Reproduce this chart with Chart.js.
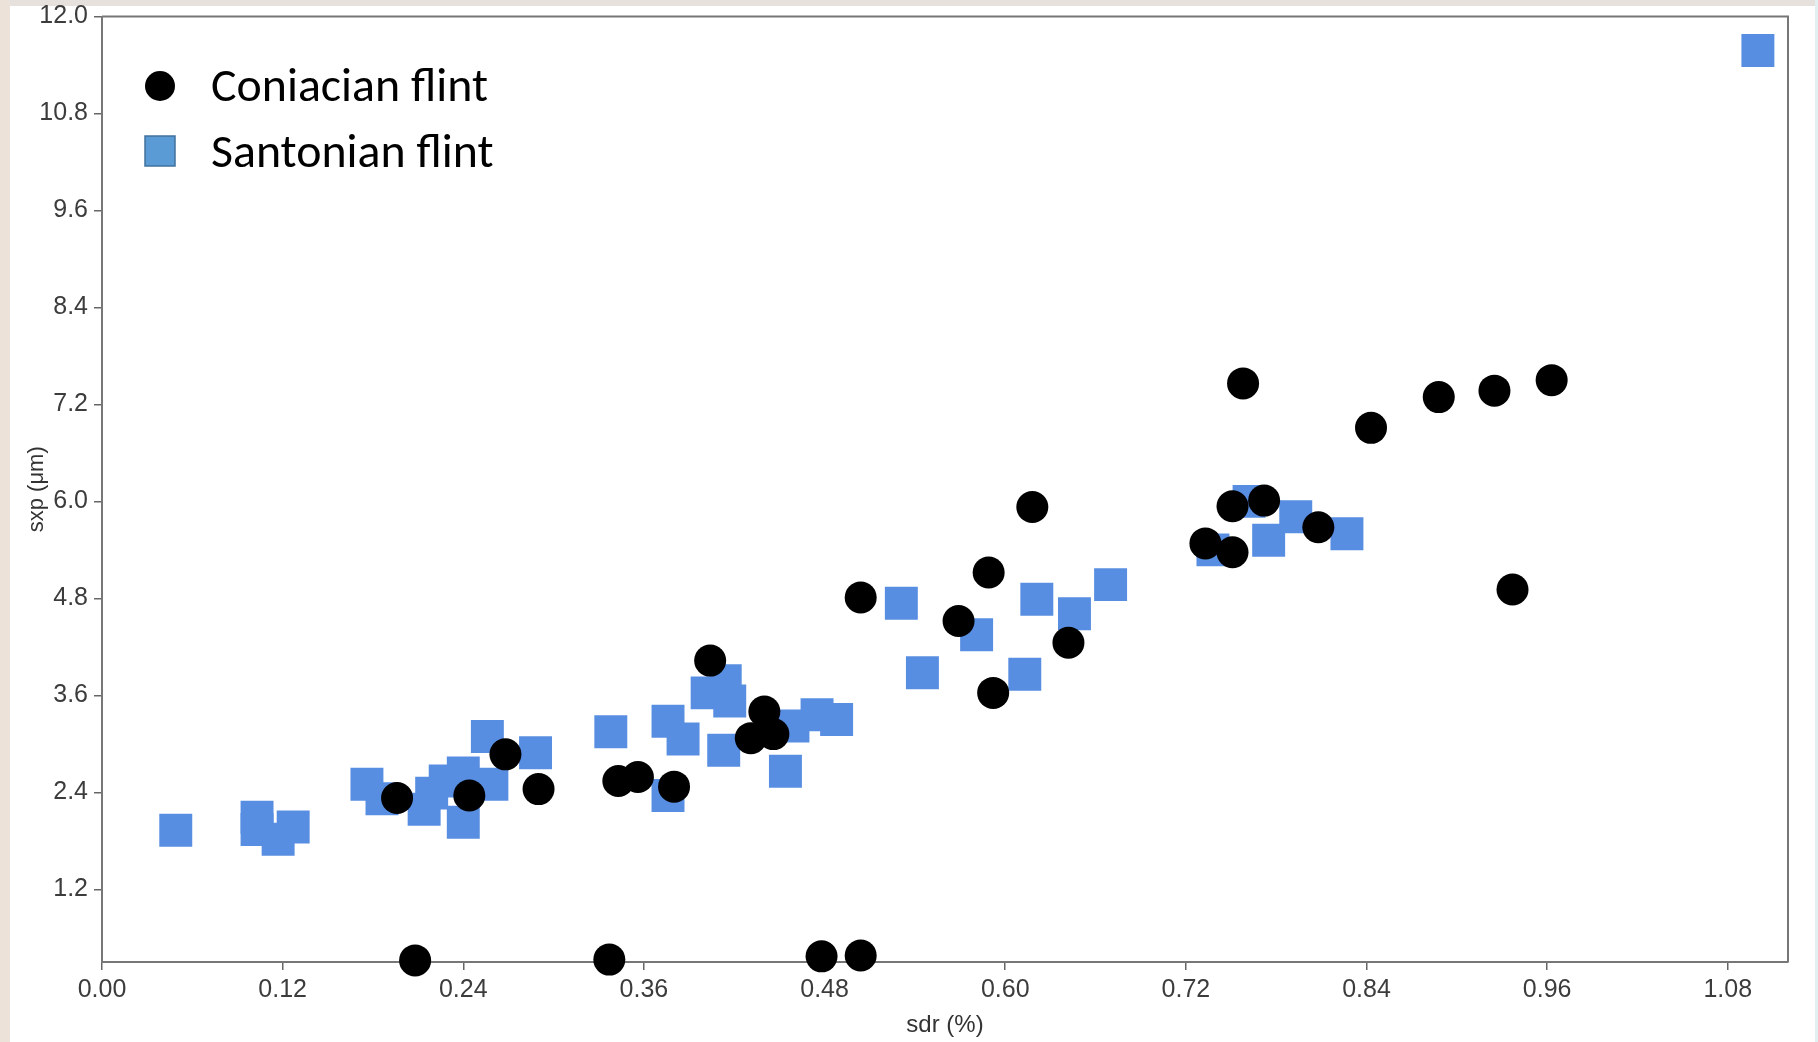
<!DOCTYPE html>
<html>
<head>
<meta charset="utf-8">
<script src="https://cdn.jsdelivr.net/npm/chart.js@4/dist/chart.umd.min.js"></script>
<style>
  html, body { margin: 0; padding: 0; background: #ffffff; overflow: hidden; }
  #wrap { position: relative; width: 1818px; height: 1042px; }
</style>
</head>
<body>
<div id="wrap"><canvas id="c"></canvas></div>
<script>
// ---- data ----
const seriesNames = ['Coniacian flint', 'Santonian flint'];

const coniacianX = [0.196, 0.244, 0.268, 0.290, 0.343, 0.356, 0.380, 0.404, 0.431, 0.440, 0.446,
                    0.504, 0.569, 0.589, 0.592, 0.618, 0.642, 0.733, 0.751, 0.751, 0.758, 0.772,
                    0.808, 0.843, 0.888, 0.925, 0.963, 0.937, 0.208, 0.337, 0.478, 0.504];
const coniacianY = [2.33, 2.36, 2.87, 2.44, 2.54, 2.59, 2.47, 4.03, 3.07, 3.40, 3.12,
                    4.81, 4.52, 5.12, 3.63, 5.93, 4.25, 5.48, 5.37, 5.94, 7.46, 6.01,
                    5.68, 6.91, 7.29, 7.37, 7.50, 4.91, 0.32, 0.33, 0.37, 0.38];

const santonianX = [0.049, 0.103, 0.103, 0.117, 0.127, 0.176, 0.186, 0.214, 0.219, 0.228,
                    0.240, 0.240, 0.256, 0.259, 0.288, 0.338, 0.376, 0.386, 0.376, 0.402,
                    0.414, 0.417, 0.413, 0.459, 0.454, 0.475, 0.488, 0.531, 0.545, 0.581,
                    0.613, 0.621, 0.646, 0.670, 0.738, 0.762, 0.775, 0.793, 0.827, 1.100];
const santonianY = [1.93, 2.09, 1.94, 1.82, 1.97, 2.50, 2.32, 2.19, 2.39, 2.54,
                    2.64, 2.03, 3.09, 2.50, 2.89, 3.15, 3.28, 3.06, 2.36, 3.63,
                    3.78, 3.53, 2.92, 3.22, 2.66, 3.36, 3.30, 4.74, 3.88, 4.35,
                    3.86, 4.79, 4.61, 4.97, 5.40, 6.00, 5.52, 5.81, 5.60, 11.58];

const xTickValues = [0.00, 0.12, 0.24, 0.36, 0.48, 0.60, 0.72, 0.84, 0.96, 1.08];
const xTickLabels = ['0.00', '0.12', '0.24', '0.36', '0.48', '0.60', '0.72', '0.84', '0.96', '1.08'];
const yTickValues = [1.2, 2.4, 3.6, 4.8, 6.0, 7.2, 8.4, 9.6, 10.8, 12.0];
const yTickLabels = ['1.2', '2.4', '3.6', '4.8', '6.0', '7.2', '8.4', '9.6', '10.8', '12.0'];
const xTitle = 'sdr (%)';
const yTitle = 'sxp (\u03bcm)';

// ---- helpers ----
const pts = (xs, ys) => xs.map((x, i) => ({ x: x, y: ys[i] }));

const bgPlugin = {
  id: 'bg',
  beforeDraw(chart) {
    const ctx = chart.ctx;
    ctx.save();
    ctx.fillStyle = '#ffffff';
    ctx.fillRect(0, 0, chart.width, chart.height);
    ctx.fillStyle = '#e6e1dc';
    ctx.fillRect(0, 0, chart.width, 6);
    ctx.fillStyle = '#ece2da';
    ctx.fillRect(0, 0, 10, chart.height);
    ctx.fillStyle = '#e2f0f2';
    ctx.fillRect(chart.width - 3, 0, 3, chart.height);
    ctx.restore();
  }
};

const framePlugin = {
  id: 'frame',
  beforeDatasetsDraw(chart) {
    const a = chart.chartArea, ctx = chart.ctx;
    ctx.save();
    ctx.strokeStyle = '#777777';
    ctx.lineWidth = 2;
    ctx.beginPath();
    ctx.moveTo(a.left, a.top);
    ctx.lineTo(a.right, a.top);
    ctx.lineTo(a.right, a.bottom);
    ctx.stroke();
    ctx.restore();
  }
};

const legendPlugin = {
  id: 'customLegend',
  afterDatasetsDraw(chart) {
    const ctx = chart.ctx;
    const ds = chart.data.datasets;
    ctx.save();
    ctx.fillStyle = '#000000';
    ctx.beginPath();
    ctx.arc(160, 86, 15, 0, Math.PI * 2);
    ctx.fill();
    ctx.fillStyle = '#5b9bd5';
    ctx.strokeStyle = '#41719c';
    ctx.lineWidth = 1.5;
    ctx.fillRect(145, 136, 30, 30);
    ctx.strokeRect(145, 136, 30, 30);
    const fam = 'Carlito, Lato, "Open Sans", sans-serif';
    ctx.font = '44px ' + fam;
    const w0 = ctx.measureText(ds[0].label).width;
    const size = 44 * 277 / w0;
    ctx.font = size.toFixed(2) + 'px ' + fam;
    ctx.fillStyle = '#000000';
    ctx.textBaseline = 'alphabetic';
    ctx.textAlign = 'left';
    ctx.fillText(ds[0].label, 211, 101);
    ctx.fillText(ds[1].label, 211, 167);
    ctx.restore();
  }
};

const tickFont = { family: '"Liberation Sans", Arial, Helvetica, sans-serif', size: 25, lineHeight: 1 };
const tickColor = '#3c3c3c';

new Chart(document.getElementById('c'), {
  type: 'scatter',
  data: {
    datasets: [
      {
        label: seriesNames[0],
        data: pts(coniacianX, coniacianY),
        pointStyle: 'circle',
        pointRadius: 16,
        pointHoverRadius: 16,
        backgroundColor: '#000000',
        borderColor: '#000000',
        borderWidth: 0,
        clip: false
      },
      {
        label: seriesNames[1],
        data: pts(santonianX, santonianY),
        pointStyle: 'rect',
        pointRadius: 23.3,
        pointHoverRadius: 23.3,
        backgroundColor: 'rgb(88,142,226)',
        borderColor: 'rgb(88,142,226)',
        borderWidth: 0,
        clip: false
      }
    ]
  },
  options: {
    responsive: true,
    maintainAspectRatio: false,
    animation: false,
    devicePixelRatio: 1,
    events: [],
    layout: { autoPadding: false, padding: { left: 0, right: 30, top: 16.5, bottom: 0 } },
    plugins: {
      legend: { display: false },
      tooltip: { enabled: false }
    },
    scales: {
      x: {
        type: 'linear',
        min: 0,
        max: 1.12,
        afterBuildTicks(scale) { scale.ticks = xTickValues.map(v => ({ value: v })); },
        afterFit(scale) { scale.height = 80; scale.paddingLeft = 0; scale.paddingRight = 0; },
        ticks: {
          font: tickFont,
          color: tickColor,
          padding: 8,
          maxRotation: 0,
          autoSkip: false,
          callback(v) {
            const i = xTickValues.findIndex(t => Math.abs(t - v) < 1e-6);
            return i >= 0 ? xTickLabels[i] : '';
          }
        },
        grid: { display: true, drawOnChartArea: false, drawTicks: true, tickLength: 8, color: '#666666', lineWidth: 1.5 },
        border: { display: true, color: '#777777', width: 2 },
        title: {
          display: true,
          text: xTitle,
          color: '#333333',
          font: { family: '"Liberation Sans", Arial, sans-serif', size: 24 },
          padding: { top: 0, bottom: 2 }
        }
      },
      y: {
        type: 'linear',
        min: 0.3,
        max: 12.0,
        afterBuildTicks(scale) { scale.ticks = yTickValues.map(v => ({ value: v })); },
        afterFit(scale) { scale.width = 102; scale.paddingTop = 0; scale.paddingBottom = 0; },
        ticks: {
          font: tickFont,
          color: tickColor,
          padding: 6,
          autoSkip: false,
          callback(v) {
            const i = yTickValues.findIndex(t => Math.abs(t - v) < 1e-6);
            return i >= 0 ? yTickLabels[i] : '';
          }
        },
        grid: { display: true, drawOnChartArea: false, drawTicks: true, tickLength: 8, color: '#666666', lineWidth: 1.5 },
        border: { display: true, color: '#777777', width: 2 },
        title: {
          display: true,
          text: yTitle,
          color: '#333333',
          font: { family: '"Liberation Sans", Arial, sans-serif', size: 22 },
          padding: { top: 24, bottom: 0 }
        }
      }
    }
  },
  plugins: [bgPlugin, framePlugin, legendPlugin]
});
</script>
</body>
</html>
